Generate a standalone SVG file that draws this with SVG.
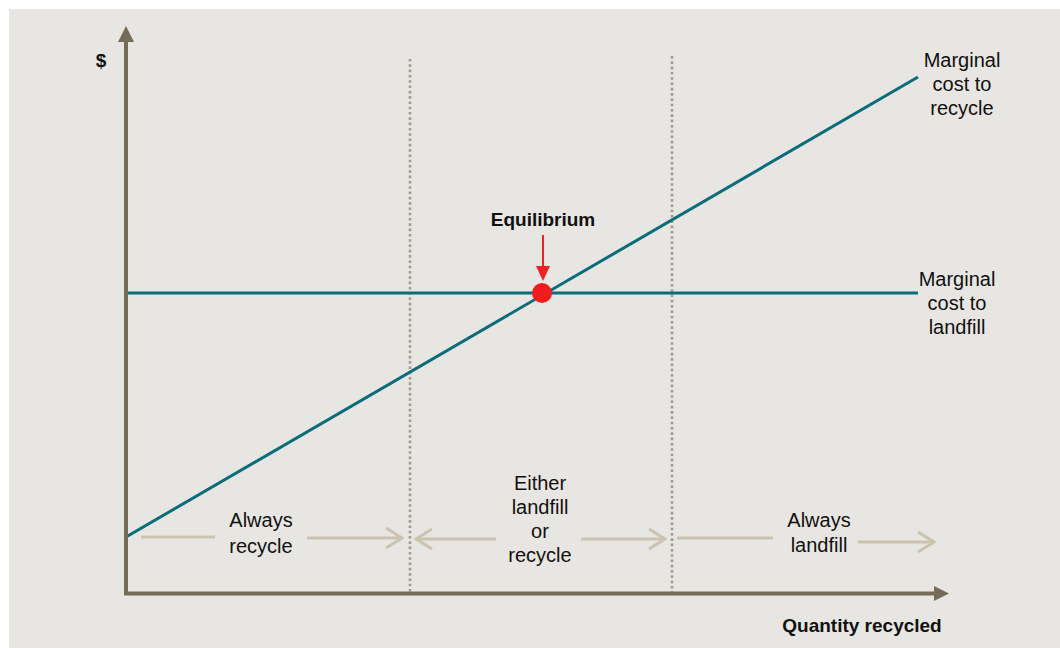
<svg xmlns="http://www.w3.org/2000/svg" width="1060" height="648" viewBox="0 0 1060 648">
<defs>
<style>
.t{font-family:"Liberation Sans",Arial,sans-serif;font-size:20px;fill:#111;text-anchor:middle}
.b{font-weight:bold;font-size:19px}
.axis{stroke:#746b58;stroke-width:4;fill:none}
.dot{stroke:#a39c8e;stroke-width:2.6;stroke-dasharray:2.6 2.7;fill:none}
.teal{stroke:#0b6d79;stroke-width:3;fill:none}
.range{stroke:#cbc3b0;stroke-width:3;fill:none}
</style>
<marker id="chev" viewBox="0 0 20 24" refX="18" refY="12" markerWidth="20" markerHeight="24" markerUnits="userSpaceOnUse" orient="auto">
<path d="M2,2 L18,12 L2,22" fill="none" stroke="#cbc3b0" stroke-width="3"/>
</marker>
</defs>
<rect x="9" y="9" width="1051" height="639" fill="#e8e6e2"/>
<g id="connectors">
<line class="dot" x1="410" y1="59" x2="410" y2="592"/>
<line class="dot" x1="672" y1="56" x2="672" y2="592"/>
<line class="teal" x1="126" y1="293" x2="918" y2="293"/>
<line class="teal" x1="126" y1="537" x2="918" y2="77"/>
<line class="range" x1="141" y1="537" x2="215" y2="537"/>
<line class="range" x1="307" y1="538" x2="402" y2="538" marker-end="url(#chev)"/>
<line class="range" x1="496" y1="539" x2="416" y2="539" marker-end="url(#chev)"/>
<line class="range" x1="581" y1="539" x2="665" y2="539" marker-end="url(#chev)"/>
<line class="range" x1="677" y1="538" x2="773" y2="538"/>
<line class="range" x1="858" y1="542" x2="934" y2="542" marker-end="url(#chev)"/>
<line stroke="#ee2222" stroke-width="2" x1="543" y1="235" x2="543" y2="268"/>
<polygon points="536,266 550,266 543,281" fill="#ee2222"/>
</g>
<g id="axes">
<path class="axis" d="M126,40 V593.5 H936"/>
<polygon points="118,42 134,42 126,26" fill="#746b58"/>
<polygon points="934,586 934,601 949,593.5" fill="#746b58"/>
</g>
<g id="equilibrium">
<circle cx="542" cy="293" r="10" fill="#ee1c1c"/>
<text class="t b" x="543" y="226">Equilibrium</text>
</g>
<g id="y-label"><text class="t b" x="101" y="67">$</text></g>
<g id="x-label"><text class="t b" x="862" y="632">Quantity recycled</text></g>
<g id="mc-recycle">
<text class="t" x="962" y="67">Marginal</text>
<text class="t" x="962" y="91">cost to</text>
<text class="t" x="962" y="115">recycle</text>
</g>
<g id="mc-landfill">
<text class="t" x="957" y="286">Marginal</text>
<text class="t" x="957" y="310">cost to</text>
<text class="t" x="957" y="334">landfill</text>
</g>
<g id="always-recycle">
<text class="t" x="261" y="527">Always</text>
<text class="t" x="261" y="553">recycle</text>
</g>
<g id="either">
<text class="t" x="540" y="490">Either</text>
<text class="t" x="540" y="514">landfill</text>
<text class="t" x="540" y="538">or</text>
<text class="t" x="540" y="562">recycle</text>
</g>
<g id="always-landfill">
<text class="t" x="819" y="527">Always</text>
<text class="t" x="819" y="552">landfill</text>
</g>
</svg>
